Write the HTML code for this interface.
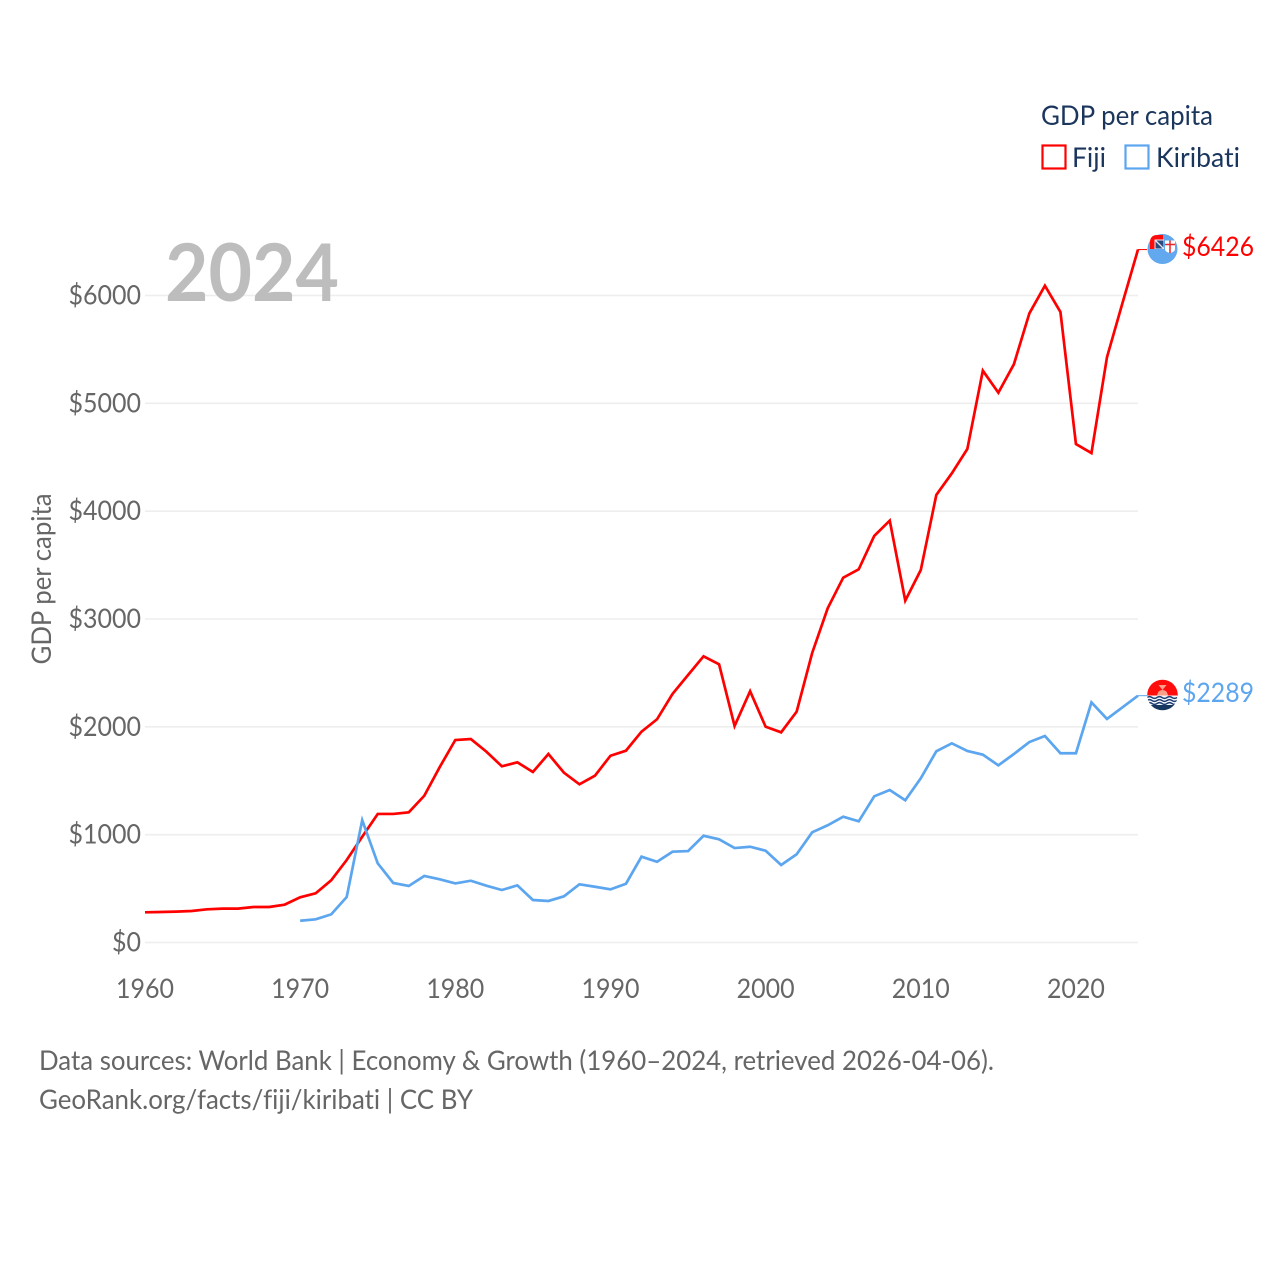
<!DOCTYPE html>
<html lang="en">
<head>
<meta charset="utf-8">
<title>GDP per capita: Fiji and Kiribati</title>
<style>
html,body{margin:0;padding:0;background:#fff;}
svg{display:block;font-family:"Lato","Carlito","Liberation Sans",sans-serif;font-variant-ligatures:none;}
</style>
</head>
<body>
<svg id="chart" xmlns="http://www.w3.org/2000/svg" width="1280" height="1280" viewBox="0 0 1280 1280">
  <rect width="1280" height="1280" fill="#fff"/>
  <g id="grid"></g>
  <text x="165" y="301" font-size="80" font-weight="700" fill="#bdbdbd" textLength="174" lengthAdjust="spacingAndGlyphs">2024</text>
  <g id="yticks"></g>
  <g id="xticks"></g>
  <text transform="translate(51,664.5) rotate(-90)" font-size="27" fill="#666" textLength="171" lengthAdjust="spacingAndGlyphs">GDP per capita</text>
  <g id="lines"></g>

  <g>
    <circle cx="1162.5" cy="249" r="15" fill="#62a8ee"/>
    <path d="M1150 249V241Q1151 235 1157 235H1163V239.5H1157Q1154.5 239.5 1154.5 242V249Z" fill="#ff0a0a"/>
    <rect x="1154.5" y="239.5" width="9.5" height="9.5" fill="#e8eef6"/>
    <rect x="1155.5" y="240.5" width="8" height="8" fill="#2b4a7d"/>
    <path d="M1155.5 240.5L1163.5 248.5" stroke="#dfe6f0" stroke-width="1.3"/>
    <path d="M1165 240.5H1175V249Q1175 252 1170 253Q1165 252 1165 249Z" fill="#fff"/>
    <path d="M1170 240.5V253M1165 244.5H1175" stroke="#e8262a" stroke-width="1.5"/>
  </g>

  <g>
    <clipPath id="kclip"><circle cx="1162.5" cy="695" r="15.3"/></clipPath>
    <g clip-path="url(#kclip)">
      <rect x="1147" y="679" width="31" height="17" fill="#ff0d0d"/>
      <rect x="1147" y="695.5" width="31" height="16" fill="#f4f6fa"/>
      <path d="M1157 695.5Q1158 690 1162.5 690Q1167 690 1168 695.5ZM1158.5 685L1166.5 685L1162.5 690Z" fill="#f9a08c"/>
      <path d="M1147 697.5q2.5 -1.8 5 0t5 0t5 0t5 0t5 0t5 0" fill="none" stroke="#1f3f73" stroke-width="1.4"/>
      <path d="M1147 700.5q2.5 -1.8 5 0t5 0t5 0t5 0t5 0t5 0" fill="none" stroke="#1f3f73" stroke-width="1.4"/>
      <path d="M1147 703.5q2.5 -1.8 5 0t5 0t5 0t5 0t5 0t5 0" fill="none" stroke="#1f3f73" stroke-width="1.4"/>
      <rect x="1147" y="705" width="31" height="7" fill="#16375f"/>
    </g>
  </g>

  <text x="1182" y="256" font-size="27" fill="#ff0000" textLength="72" lengthAdjust="spacingAndGlyphs">$6426</text>
  <text x="1182" y="702" font-size="27" fill="#5ca5ef" textLength="72" lengthAdjust="spacingAndGlyphs">$2289</text>

  <g>
    <text x="1041" y="125" font-size="27" fill="#1b365d" textLength="172" lengthAdjust="spacingAndGlyphs">GDP per capita</text>
    <g>
      <rect x="1042.5" y="145.5" width="23" height="23" fill="none" stroke="#ff0000" stroke-width="2.2"/>
      <text x="1072" y="167" font-size="27" fill="#1b365d" textLength="34" lengthAdjust="spacingAndGlyphs">Fiji</text>
    </g>
    <g>
      <rect x="1125.5" y="145.5" width="23" height="23" fill="none" stroke="#5ca5ef" stroke-width="2.2"/>
      <text x="1156" y="167" font-size="27" fill="#1b365d" textLength="84" lengthAdjust="spacingAndGlyphs">Kiribati</text>
    </g>
  </g>

  <text x="39" y="1070" font-size="27" fill="#666" textLength="955" lengthAdjust="spacingAndGlyphs">Data sources: World Bank | Economy &amp; Growth (1960–2024, retrieved 2026-04-06).</text>
  <text x="39" y="1109" font-size="27" fill="#666" textLength="434" lengthAdjust="spacingAndGlyphs">GeoRank.org/facts/fiji/kiribati | CC BY</text>
</svg>
<script>
const fijiStartYear = 1960;
const kiribatiStartYear = 1970;
const fijiValues = [280,283,286,292,308,314,314,329,329,351,419,456,577,765,981,1192,1192,1207,1361,1628,1878,1887,1770,1634,1671,1581,1748,1575,1467,1547,1732,1779,1955,2070,2305,2481,2654,2580,2008,2330,2001,1949,2141,2685,3099,3383,3461,3770,3912,3170,3454,4150,4351,4577,5303,5099,5362,5835,6091,5847,4623,4539,5427,5930,6426];
const kiribatiValues = [202,215,261,422,1135,734,552,524,617,586,548,573,527,487,530,394,385,428,540,517,493,545,796,749,842,848,990,957,876,888,851,719,818,1022,1087,1167,1124,1356,1414,1319,1523,1773,1847,1776,1742,1643,1748,1859,1915,1755,1755,2227,2073,2181,2289];
const yTickValues = [0,1000,2000,3000,4000,5000,6000];
const xTickValues = [1960,1970,1980,1990,2000,2010,2020];

const NS = 'http://www.w3.org/2000/svg';
const xScale = function (year) { return 145 + (year - 1960) * (1138 - 145) / 64; };
const yScale = function (value) { return 942.5 - value * (942.5 - 295.5) / 6000; };

const gridGroup = document.getElementById('grid');
const yTickGroup = document.getElementById('yticks');
const xTickGroup = document.getElementById('xticks');
const lineGroup = document.getElementById('lines');

yTickValues.forEach(function (v) {
  const line = document.createElementNS(NS, 'line');
  
  
  line.setAttribute('x1', 145);
  line.setAttribute('x2', 1138);
  line.setAttribute('y1', yScale(v));
  line.setAttribute('y2', yScale(v));
  line.setAttribute('stroke', '#eeeeee');
  line.setAttribute('stroke-width', '1.6');
  gridGroup.appendChild(line);

  const label = document.createElementNS(NS, 'text');
  
  
  const text = '$' + v;
  label.setAttribute('x', 141);
  label.setAttribute('y', yScale(v) + 9);
  label.setAttribute('font-size', '27');
  label.setAttribute('fill', '#666');
  label.setAttribute('text-anchor', 'end');
  label.setAttribute('textLength', text.length * 14.5);
  label.setAttribute('lengthAdjust', 'spacingAndGlyphs');
  label.textContent = text;
  yTickGroup.appendChild(label);
});

xTickValues.forEach(function (year) {
  const label = document.createElementNS(NS, 'text');
  
  
  label.setAttribute('x', xScale(year));
  label.setAttribute('y', 998);
  label.setAttribute('font-size', '27');
  label.setAttribute('fill', '#666');
  label.setAttribute('text-anchor', 'middle');
  label.setAttribute('textLength', '58');
  label.setAttribute('lengthAdjust', 'spacingAndGlyphs');
  label.textContent = String(year);
  xTickGroup.appendChild(label);
});

const toPoints = function (values, startYear) {
  return values.map(function (v, i) {
    return xScale(startYear + i).toFixed(2) + ',' + yScale(v).toFixed(2);
  }).join(' ');
};

const fijiLine = document.createElementNS(NS, 'polyline');


fijiLine.setAttribute('points', toPoints(fijiValues, fijiStartYear));
fijiLine.setAttribute('fill', 'none');
fijiLine.setAttribute('stroke', '#ff0000');
fijiLine.setAttribute('stroke-width', '2.7');
lineGroup.appendChild(fijiLine);

const kiribatiLine = document.createElementNS(NS, 'polyline');


kiribatiLine.setAttribute('points', toPoints(kiribatiValues, kiribatiStartYear));
kiribatiLine.setAttribute('fill', 'none');
kiribatiLine.setAttribute('stroke', '#5ca5ef');
kiribatiLine.setAttribute('stroke-width', '2.7');
lineGroup.appendChild(kiribatiLine);

const fijiLeader = document.createElementNS(NS, 'line');


fijiLeader.setAttribute('x1', xScale(2024));
fijiLeader.setAttribute('x2', 1147);
fijiLeader.setAttribute('y1', yScale(fijiValues[fijiValues.length - 1]));
fijiLeader.setAttribute('y2', yScale(fijiValues[fijiValues.length - 1]));
fijiLeader.setAttribute('stroke', '#ff0000');
fijiLeader.setAttribute('stroke-width', '1');
lineGroup.appendChild(fijiLeader);

const kiribatiLeader = document.createElementNS(NS, 'line');


kiribatiLeader.setAttribute('x1', xScale(2024));
kiribatiLeader.setAttribute('x2', 1147);
kiribatiLeader.setAttribute('y1', yScale(kiribatiValues[kiribatiValues.length - 1]));
kiribatiLeader.setAttribute('y2', yScale(kiribatiValues[kiribatiValues.length - 1]));
kiribatiLeader.setAttribute('stroke', '#5ca5ef');
kiribatiLeader.setAttribute('stroke-width', '1');
lineGroup.appendChild(kiribatiLeader);
</script>
</body>
</html>
